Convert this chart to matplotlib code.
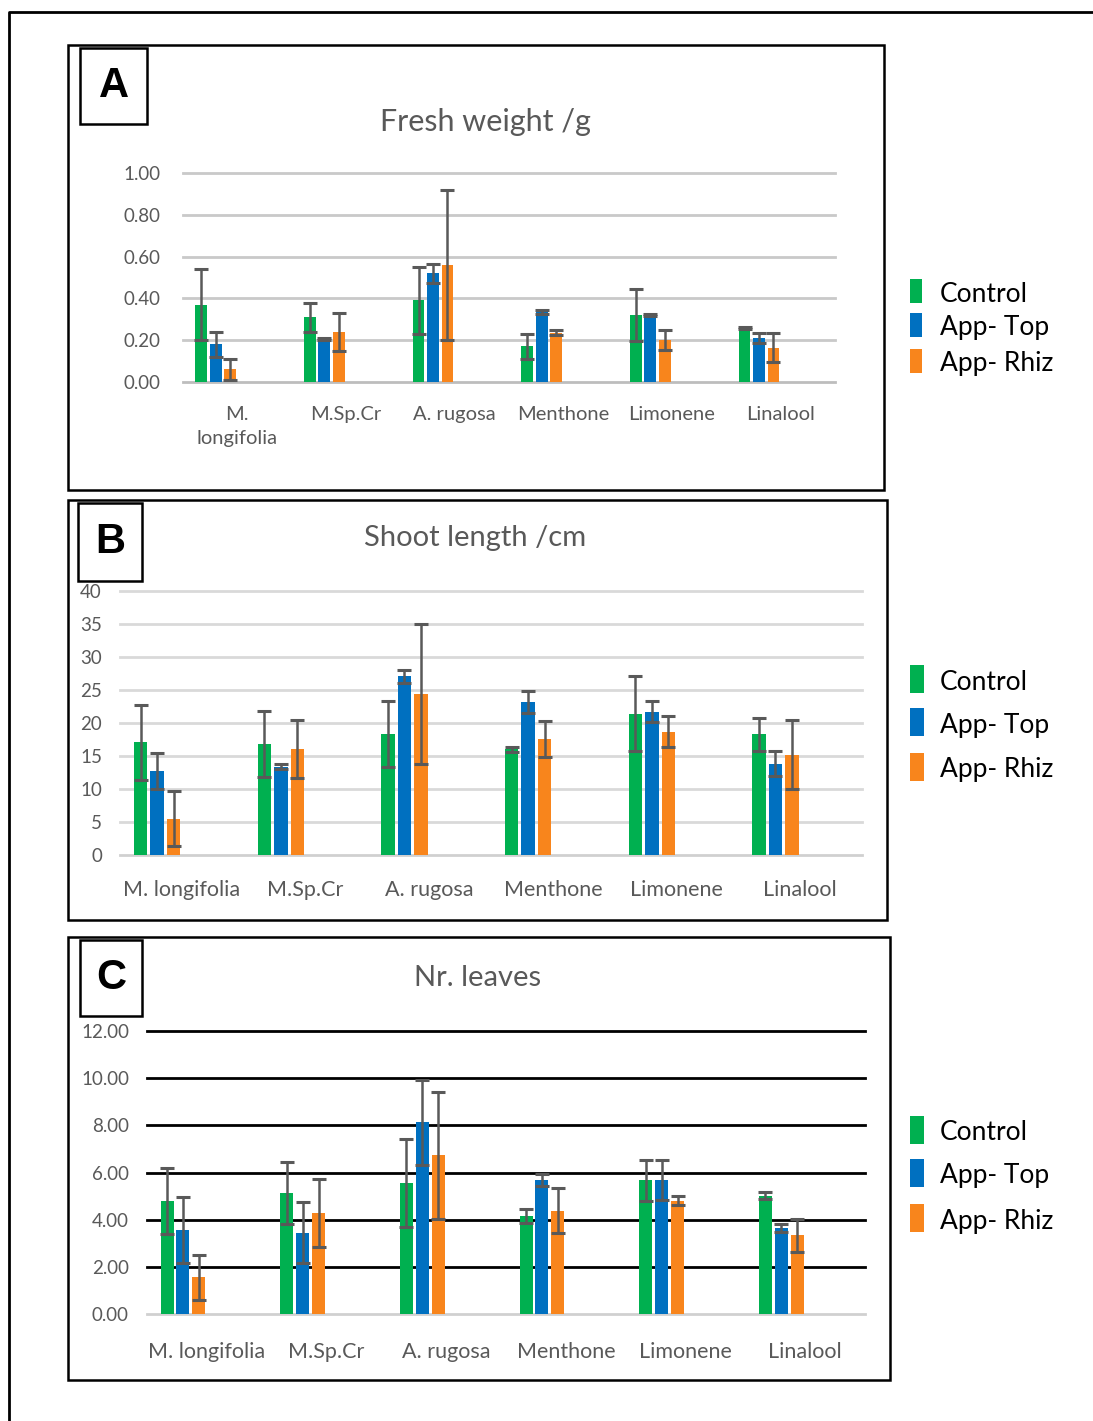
import matplotlib
matplotlib.use("Agg")
import matplotlib.pyplot as plt
from matplotlib.patches import Rectangle
from matplotlib.lines import Line2D

W, H = 1093, 1421

categories = ["M. longifolia", "M.Sp.Cr", "A. rugosa", "Menthone", "Limonene", "Linalool"]
series_names = ["Control", "App- Top", "App- Rhiz"]
series_colors = ["#00B050", "#0070C0", "#F8851C"]

# Fresh weight (g)
fw_control = [0.37, 0.31, 0.39, 0.17, 0.32, 0.26]
fw_control_err = [0.17, 0.07, 0.16, 0.06, 0.125, 0.005]
fw_top = [0.18, 0.205, 0.52, 0.335, 0.32, 0.21]
fw_top_err = [0.06, 0.005, 0.045, 0.008, 0.005, 0.024]
fw_rhiz = [0.06, 0.24, 0.56, 0.235, 0.20, 0.165]
fw_rhiz_err = [0.05, 0.09, 0.36, 0.012, 0.048, 0.07]

# Shoot length (cm)
sl_control = [17.1, 16.8, 18.4, 16.0, 21.4, 18.3]
sl_control_err = [5.7, 4.95, 5.0, 0.4, 5.7, 2.5]
sl_top = [12.7, 13.4, 27.1, 23.2, 21.7, 13.8]
sl_top_err = [2.7, 0.4, 1.0, 1.7, 1.6, 1.9]
sl_rhiz = [5.5, 16.0, 24.4, 17.6, 18.7, 15.2]
sl_rhiz_err = [4.2, 4.4, 10.6, 2.7, 2.3, 5.2]

# Number of leaves
nl_control = [4.8, 5.13, 5.57, 4.17, 5.68, 5.02]
nl_control_err = [1.4, 1.33, 1.87, 0.3, 0.87, 0.15]
nl_top = [3.55, 3.45, 8.13, 5.68, 5.68, 3.65]
nl_top_err = [1.4, 1.3, 1.8, 0.25, 0.86, 0.16]
nl_rhiz = [1.55, 4.28, 6.73, 4.38, 4.81, 3.34]
nl_rhiz_err = [0.95, 1.44, 2.7, 0.95, 0.2, 0.7]

FONT = "Lato"
GRAY = "#595959"

fig = plt.figure(figsize=(W / 100, H / 100), dpi=100)


def fx(x):
    return x / W


def fy(y):
    return 1 - y / H


def axes_px(x0, y0, x1, y1):
    return fig.add_axes([fx(x0), fy(y1), (x1 - x0) / W, (y1 - y0) / H])


def box_px(x0, y0, x1, y1, lw=1.8, fill=False):
    fig.patches.append(Rectangle((fx(x0), fy(y1)), (x1 - x0) / W, (y1 - y0) / H,
                                 transform=fig.transFigure, fill=fill,
                                 facecolor="white", edgecolor="black", lw=lw, zorder=5))


# outer frame (left and top edges)
fig.lines.append(Line2D([fx(9), fx(9), fx(W + 5)], [fy(H + 5), fy(12), fy(12)],
                        transform=fig.transFigure, color="black", lw=2))


def draw_panel(rect, box, label_box, letter, title, title_xy, title_fs, values, errors,
               ymax, ystep, fmt, grid_color, base_color, ytick_pad, xtick_pad,
               tick_fs, cat_fs, cat_labels, legend_x, legend_ys, legend_h, legend_w):
    box_px(*box)
    box_px(*label_box, fill=True)
    lx = (label_box[0] + label_box[2]) / 2
    ly = (label_box[1] + label_box[3]) / 2
    fig.text(fx(lx), fy(ly), letter, ha="center", va="center", fontsize=30,
             fontweight="bold", family="Liberation Sans", zorder=6)
    fig.text(fx(title_xy[0]), fy(title_xy[1]), title, ha="center", va="center",
             fontsize=title_fs, color=GRAY, family=FONT)

    ax = axes_px(*rect)
    n = len(categories)
    slot = 0.133
    width = 0.108
    for i, (vals, errs) in enumerate(zip(values, errors)):
        xs = [j + (i - 2.5) * slot for j in range(n)]
        ax.bar(xs, vals, width=width, color=series_colors[i], zorder=3)
        ax.errorbar(xs, vals, yerr=errs, fmt="none", ecolor="#595959",
                    elinewidth=1.8, capsize=5, capthick=2.2, zorder=4)
    ticks = [k * ystep for k in range(int(round(ymax / ystep)) + 1)]
    for t in ticks:
        ax.axhline(t, color=base_color if t == 0 else grid_color, lw=2,
                   zorder=1 if t else 2, clip_on=False)
    ax.set_xlim(-0.5, n - 0.5)
    ax.set_ylim(0, ymax)
    ax.set_yticks(ticks)
    ax.set_yticklabels([fmt.format(t) for t in ticks], fontsize=tick_fs,
                       color=GRAY, family=FONT)
    ax.set_xticks(range(n))
    ax.set_xticklabels(cat_labels, fontsize=cat_fs, color=GRAY, family=FONT,
                       linespacing=1.5)
    ax.tick_params(axis="y", length=0, pad=ytick_pad)
    ax.tick_params(axis="x", length=0, pad=xtick_pad)
    for s in ax.spines.values():
        s.set_visible(False)
    ax.patch.set_alpha(0)

    for name, col, yy in zip(series_names, series_colors, legend_ys):
        fig.patches.append(Rectangle((fx(legend_x), fy(yy + legend_h / 2)),
                                     legend_w / W, legend_h / H,
                                     transform=fig.transFigure, facecolor=col,
                                     edgecolor="none"))
        fig.text(fx(legend_x + 30), fy(yy + 3), name, ha="left", va="center",
                 fontsize=19, family=FONT, color="black")
    return ax


cat_a = ["M.\nlongifolia", "M.Sp.Cr", "A. rugosa", "Menthone", "Limonene", "Linalool"]

draw_panel((183, 173, 835, 382), (68, 45, 884, 490), (80, 48, 147, 124), "A",
           "Fresh weight /g", (485, 122), 22,
           [fw_control, fw_top, fw_rhiz], [fw_control_err, fw_top_err, fw_rhiz_err],
           1.0, 0.2, "{:.2f}", "#c9c9c9", "#bdbdbd", 16, 17, 13.5, 14.5, cat_a,
           910, [291, 325, 361], 24, 12)

draw_panel((120, 591, 862, 855), (68, 500, 887, 920), (78, 503, 142, 581), "B",
           "Shoot length /cm", (475, 538), 21,
           [sl_control, sl_top, sl_rhiz], [sl_control_err, sl_top_err, sl_rhiz_err],
           40, 5, "{:.0f}", "#d9d9d9", "#d0d0d0", 13, 18, 13.5, 15.5, categories,
           910, [679, 722, 767], 28, 14)

draw_panel((147, 1031, 865, 1314), (68, 937, 890, 1380), (80, 940, 142, 1016), "C",
           "Nr. leaves", (478, 978), 21,
           [nl_control, nl_top, nl_rhiz], [nl_control_err, nl_top_err, nl_rhiz_err],
           12, 2, "{:.2f}", "black", "#d0d0d0", 13, 20, 13.5, 15.5, categories,
           910, [1130, 1173, 1218], 28, 14)

fig.savefig("out.png", dpi=100, facecolor="white")
